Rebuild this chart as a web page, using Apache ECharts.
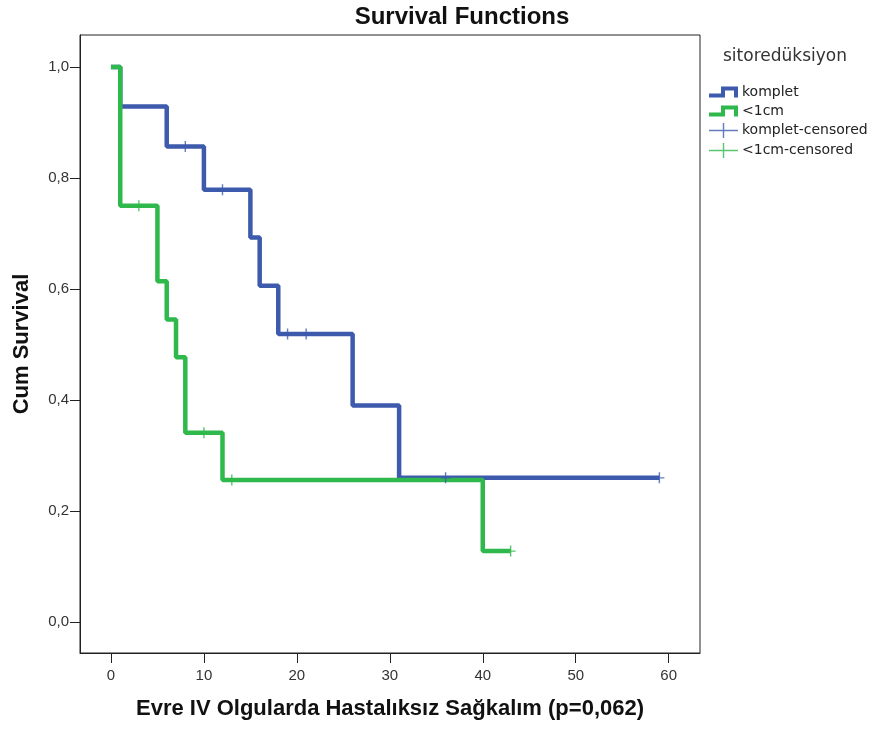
<!DOCTYPE html>
<html>
<head>
<meta charset="utf-8">
<script src="https://cdn.jsdelivr.net/npm/echarts@6/dist/echarts.min.js"></script>
<style>html,body{margin:0;padding:0;background:#fff}#c{width:872px;height:729px}</style>
</head>
<body>
<div id="c"></div>
<script>
// Kaplan-Meier step points (time, cumulative survival)
var kompletTime = [0, 1, 6, 10, 15, 16, 18, 26, 31, 59];
var kompletSurv = [1.0, 0.929, 0.857, 0.779, 0.693, 0.606, 0.519, 0.390, 0.260, 0.260];
var lt1Time = [0, 1, 5, 6, 7, 8, 12, 40, 43];
var lt1Surv = [1.0, 0.750, 0.614, 0.545, 0.477, 0.341, 0.256, 0.128, 0.128];
// censored observations
var kompletCensTime = [8, 12, 19, 21, 36, 59];
var kompletCensSurv = [0.857, 0.779, 0.519, 0.519, 0.260, 0.260];
var lt1CensTime = [3, 10, 13, 43];
var lt1CensSurv = [0.750, 0.341, 0.256, 0.128];
// ticks
var xTicks = [0, 10, 20, 30, 40, 50, 60];
var yTicks = [0, 0.2, 0.4, 0.6, 0.8, 1.0];

var seriesNames = ['komplet', '<1cm', 'komplet-censored', '<1cm-censored'];
var BLUE = '#3d5aad', GREEN = '#2fb84b';

function zip(a, b) { return a.map(function (v, i) { return [v, b[i]]; }); }

var stepIcon = 'path://M0,7 L12,7 L12,0 L29,0 L29,11 L25,11 L25,4 L16,4 L16,11 L0,11 Z';
var plusLegend = 'path://M0,6.8 L29,6.8 L29,8.2 L0,8.2 Z M13.8,0 L15.2,0 L15.2,15 L13.8,15 Z';
var plusMark = 'path://M0,5 L10,5 L10,6.4 L0,6.4 Z M4.3,0 L5.7,0 L5.7,11 L4.3,11 Z';

var chart = echarts.init(document.getElementById('c'), null, {renderer: 'canvas'});
chart.setOption({
  backgroundColor: '#fff',
  animation: false,
  title: {
    text: 'Survival Functions',
    left: 462, top: 5, textAlign: 'center', padding: 0,
    textStyle: {fontFamily: 'Liberation Sans', fontSize: 24, fontWeight: 'bold', color: '#111'}
  },
  legend: {
    orient: 'vertical', left: 704, top: 80, itemWidth: 29, itemHeight: 15, itemGap: 5,
    selectedMode: false, symbolKeepAspect: true,
    itemStyle: {borderWidth: 0},
    textStyle: {fontFamily: 'DejaVu Sans', fontSize: 14, color: '#222', padding: [0, 0, 0, -1]},
    data: [
      {name: seriesNames[0], icon: stepIcon, itemStyle: {color: BLUE, borderWidth: 0}},
      {name: seriesNames[1], icon: stepIcon, itemStyle: {color: GREEN, borderWidth: 0}},
      {name: seriesNames[2], icon: plusLegend, itemStyle: {color: BLUE, borderWidth: 0}},
      {name: seriesNames[3], icon: plusLegend, itemStyle: {color: GREEN, borderWidth: 0}}
    ]
  },
  graphic: [{
    type: 'text', left: 723, top: 48,
    style: {text: 'sitoredüksiyon', font: '17px "DejaVu Sans"', fill: '#333'}
  }],
  grid: {left: 80, top: 35, right: 172, bottom: 76, show: true, borderColor: '#222', borderWidth: 1, backgroundColor: 'transparent'},
  xAxis: {
    type: 'value', min: -3.33, max: 63.37,
    name: 'Evre IV Olgularda Hastalıksız Sağkalım (p=0,062)',
    nameLocation: 'middle', nameGap: 45,
    nameTextStyle: {fontFamily: 'Liberation Sans', fontSize: 22, fontWeight: 'bold', color: '#111'},
    axisLine: {show: true, onZero: false, lineStyle: {color: '#222', width: 1}},
    axisTick: {show: true, length: 10, customValues: xTicks, lineStyle: {color: '#222'}},
    axisLabel: {customValues: xTicks, margin: 15, fontFamily: 'Liberation Sans', fontSize: 15, color: '#333'},
    splitLine: {show: false}
  },
  yAxis: {
    type: 'value', min: -0.0559, max: 1.0577,
    name: 'Cum Survival',
    nameLocation: 'middle', nameGap: 47, nameRotate: 90,
    nameTextStyle: {fontFamily: 'Liberation Sans', fontSize: 22, fontWeight: 'bold', color: '#111'},
    axisLine: {show: true, onZero: false, lineStyle: {color: '#222', width: 1}},
    axisTick: {show: true, length: 10, customValues: yTicks, lineStyle: {color: '#222'}},
    axisLabel: {customValues: yTicks, margin: 11, fontFamily: 'Liberation Sans', fontSize: 15, color: '#333',
      formatter: function (v) { return v.toFixed(1).replace('.', ','); }},
    splitLine: {show: false}
  },
  series: [
    {
      name: seriesNames[0], type: 'line', step: 'end', data: zip(kompletTime, kompletSurv),
      showSymbol: false, symbol: 'none', clip: false, color: BLUE,
      lineStyle: {color: BLUE, width: 4.5}, itemStyle: {color: BLUE}, z: 2
    },
    {
      name: seriesNames[1], type: 'line', step: 'end', data: zip(lt1Time, lt1Surv),
      showSymbol: false, symbol: 'none', clip: false, color: GREEN,
      lineStyle: {color: GREEN, width: 4.5}, itemStyle: {color: GREEN}, z: 3
    },
    {
      name: seriesNames[2], type: 'scatter', data: zip(kompletCensTime, kompletCensSurv),
      symbol: plusMark, symbolSize: [10, 11], clip: false, color: BLUE,
      itemStyle: {color: BLUE, borderWidth: 0}, z: 4
    },
    {
      name: seriesNames[3], type: 'scatter', data: zip(lt1CensTime, lt1CensSurv),
      symbol: plusMark, symbolSize: [10, 11], clip: false, color: GREEN,
      itemStyle: {color: GREEN, borderWidth: 0}, z: 4
    }
  ]
});
</script>
</body>
</html>
